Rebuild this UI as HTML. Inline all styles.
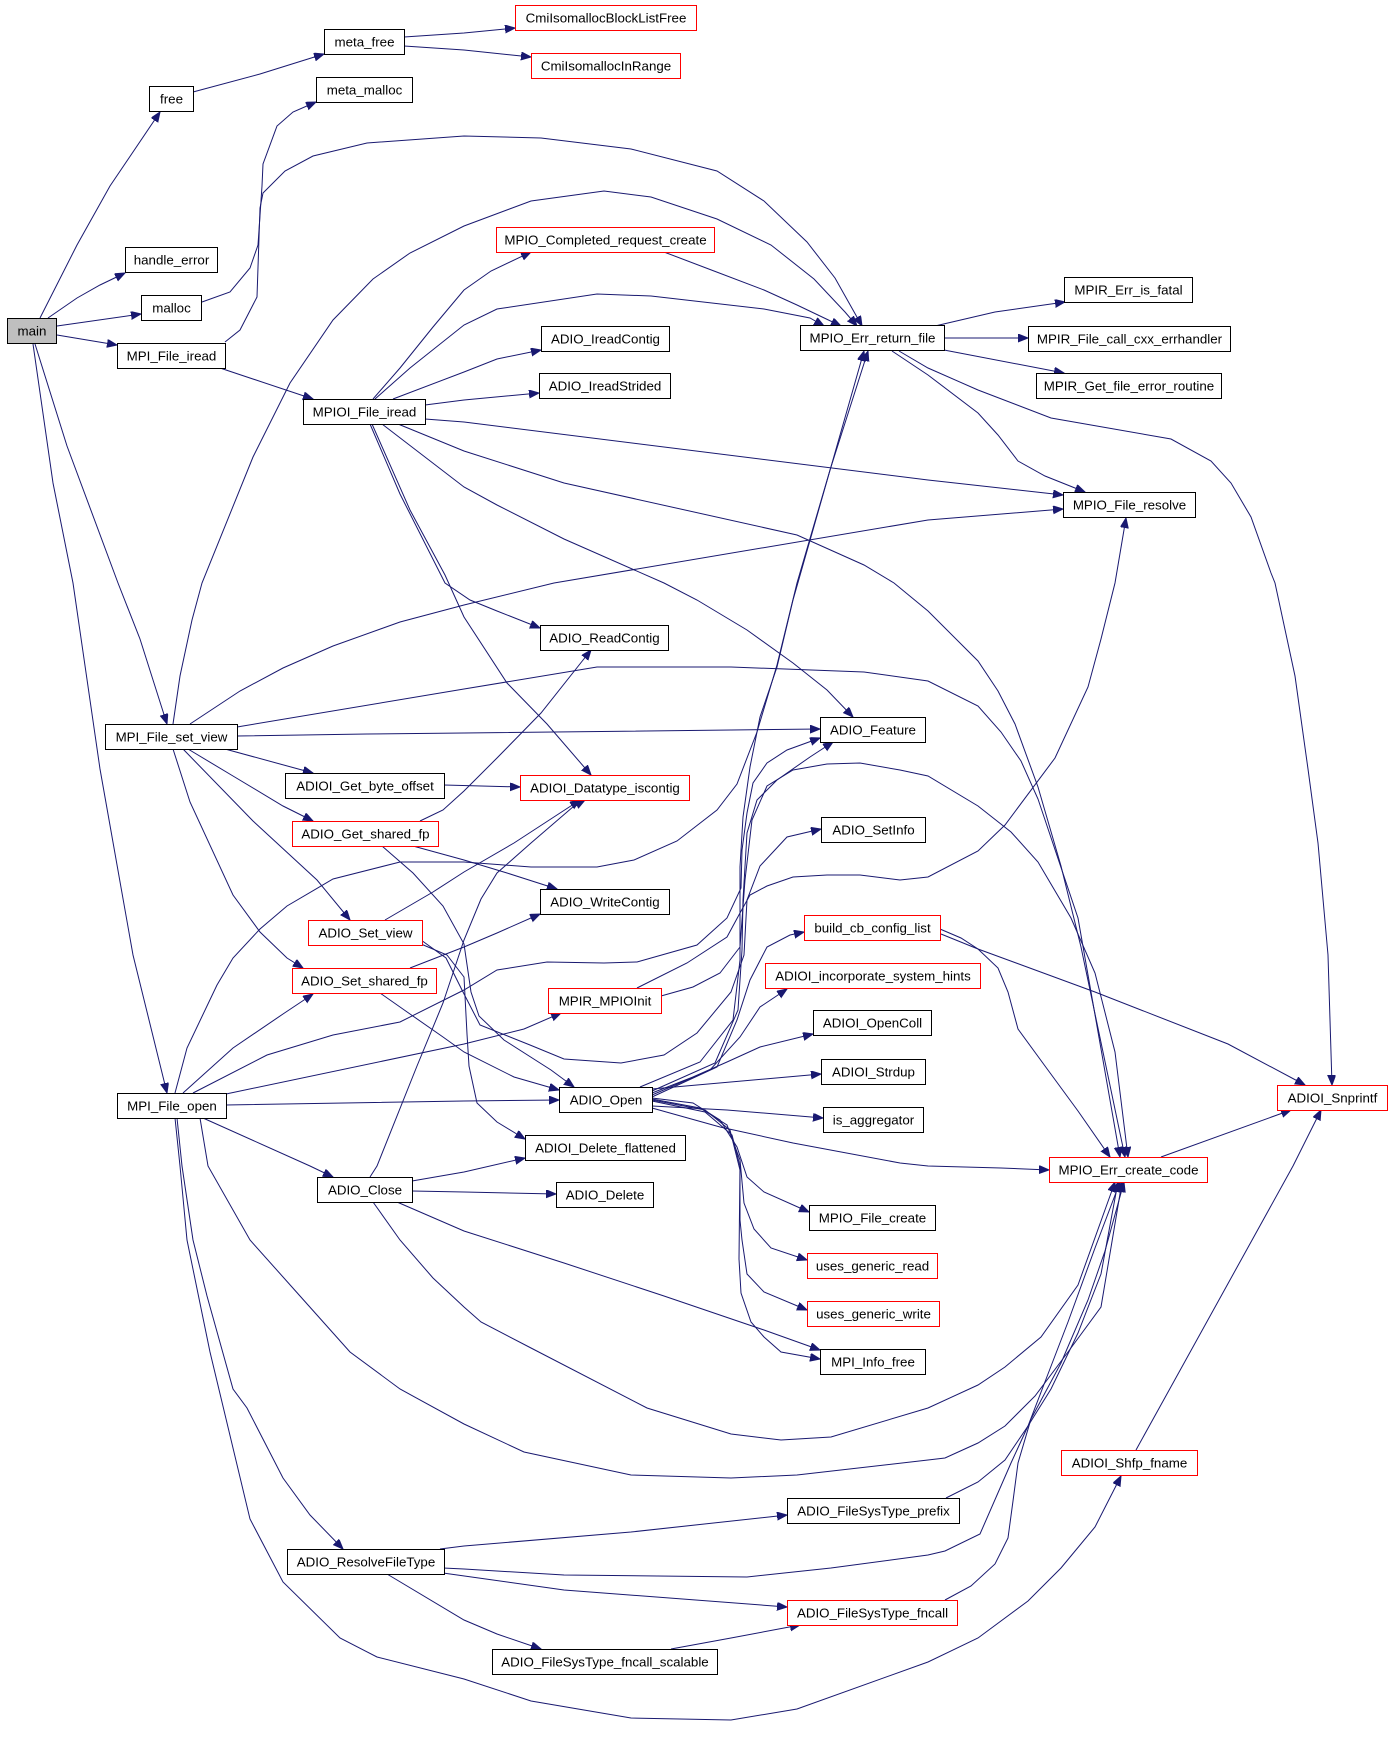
<!DOCTYPE html>
<html><head><meta charset="utf-8"><style>
html,body{margin:0;padding:0;background:#fff;}
svg{display:block;}
text{font-family:"Liberation Sans",Arial,sans-serif;font-size:13.33px;fill:#000;text-anchor:middle;}
.e{fill:none;stroke:#191970;stroke-width:1;marker-end:url(#a);}
.b{fill:#fff;stroke:#000;stroke-width:1;}
.r{fill:#fff;stroke:#ff0000;stroke-width:1;}
.g{fill:#bfbfbf;stroke:#000;stroke-width:1;}
</style></head><body>
<svg width="1392" height="1749" viewBox="0 0 1392 1749" xmlns="http://www.w3.org/2000/svg">
<defs><marker id="a" markerWidth="12" markerHeight="10" refX="10" refY="4" orient="auto" markerUnits="userSpaceOnUse"><path d="M0,0 L10,4 L0,8 z" fill="#191970" stroke="#191970"/></marker></defs>
<rect x="0" y="0" width="1392" height="1749" fill="#fff"/>
<g>
<polyline class="e" points="40,318 77,245 110,186 160,112"/>
<polyline class="e" points="48,318 77,298 100,285 125,273"/>
<polyline class="e" points="57,326 141,314"/>
<polyline class="e" points="57,335 117,345"/>
<polyline class="e" points="35,344 67,446 118,583 140,639 167,724"/>
<polyline class="e" points="33,344 53,483 73,583 100,769 133,955 167,1093"/>
<polyline class="e" points="193,92 260,74 324,54"/>
<polyline class="e" points="404,37 464,33 515,28"/>
<polyline class="e" points="404,46 464,50 531,57"/>
<polyline class="e" points="202,302 230,292 250,268 258,245 262,186 263,164 277,126 293,112 316,102"/>
<polyline class="e" points="225,342 240,330 257,297 260,208 263,193 285,171 313,156 367,143 464,136 541,138 631,149 717,171 764,201 807,242 835,278 862,326"/>
<polyline class="e" points="220,368 313,399"/>
<polyline class="e" points="373,399 400,368 433,327 464,290 491,271 531,252"/>
<polyline class="e" points="375,399 410,368 464,325 497,309 597,294 651,296 764,309 810,318 824,326"/>
<polyline class="e" points="393,399 464,372 497,359 541,350"/>
<polyline class="e" points="425,405 464,400 539,393"/>
<polyline class="e" points="425,419 464,422 928,480 1063,495"/>
<polyline class="e" points="398,424 464,451 564,483 797,535 864,565 894,583 928,611 978,661 998,691 1015,724 1038,787 1061,866 1081,947 1125,1157"/>
<polyline class="e" points="382,424 464,487 497,505 564,539 664,583 697,600 747,630 793,663 827,690 853,717"/>
<polyline class="e" points="370,424 400,494 445,583 470,600 497,611 540,628"/>
<polyline class="e" points="372,424 410,510 445,575 464,617 507,683 547,724 591,775"/>
<polyline class="e" points="173,724 180,676 192,620 202,583 253,457 290,383 333,320 373,279 410,253 464,226 531,201 604,191 651,197 717,219 771,245 814,279 845,312 857,326"/>
<polyline class="e" points="190,724 240,691 283,668 333,646 400,622 464,605 554,583 928,520 1063,509"/>
<polyline class="e" points="237,727 464,689 597,667 731,667 864,672 928,681 978,706 1001,732 1021,761 1038,799 1078,918 1120,1157"/>
<polyline class="e" points="237,736 367,734 464,733 820,729"/>
<polyline class="e" points="225,749 313,773"/>
<polyline class="e" points="188,749 233,776 283,806 313,821"/>
<polyline class="e" points="183,749 253,821 317,880 350,920"/>
<polyline class="e" points="173,749 190,802 233,895 260,932 287,958 303,968"/>
<polyline class="e" points="444,785 520,787"/>
<polyline class="e" points="420,821 443,810 464,791 497,758 541,713 591,650"/>
<polyline class="e" points="413,846 464,860 507,873 557,889"/>
<polyline class="e" points="382,846 413,873 443,906 464,944 471,992 479,1016 504,1040 551,1070 574,1087"/>
<polyline class="e" points="385,920 433,892 464,872 514,843 580,800"/>
<polyline class="e" points="421,944 447,955 464,977 467,1034 469,1066 477,1103 497,1122 525,1139"/>
<polyline class="e" points="421,940 446,958 462,990 480,1025 530,1045 564,1059 621,1063 664,1055 697,1033 731,992 744,955 747,900 760,866 787,837 821,829"/>
<polyline class="e" points="410,968 464,947 497,933 540,914"/>
<polyline class="e" points="380,993 410,1014 443,1037 464,1052 514,1077 559,1090"/>
<polyline class="e" points="175,1093 187,1048 217,985 233,958 260,929 287,906 333,879 400,862 464,862 531,867 597,867 634,860 677,841 717,810 737,784 757,732 777,665 797,583 830,470 868,351"/>
<polyline class="e" points="193,1093 267,1055 333,1035 400,1022 464,990 497,970 547,962 604,963 637,962 697,945 727,918 741,888 742,850 747,813 753,783 767,763 787,750 820,738"/>
<polyline class="e" points="183,1093 233,1048 283,1014 313,994"/>
<polyline class="e" points="226,1094 464,1044 524,1029 561,1013"/>
<polyline class="e" points="226,1105 464,1101 559,1100"/>
<polyline class="e" points="203,1118 310,1166 333,1177"/>
<polyline class="e" points="175,1118 180,1166 187,1240 210,1352 250,1519 283,1582 340,1638 377,1657 464,1679 531,1701 631,1718 731,1720 797,1709 928,1662 978,1638 1028,1601 1061,1568 1095,1527 1121,1476"/>
<polyline class="e" points="177,1118 182,1166 193,1240 207,1296 233,1389 247,1408 283,1478 310,1515 343,1549"/>
<polyline class="e" points="200,1118 208,1166 250,1240 300,1296 350,1352 400,1389 464,1424 524,1452 631,1475 731,1478 797,1475 928,1460 945,1458 978,1443 1005,1426 1035,1396 1068,1352 1101,1307 1122,1182"/>
<polyline class="e" points="373,1202 400,1240 433,1278 464,1307 481,1322 531,1348 647,1408 731,1434 781,1440 831,1437 928,1408 978,1385 1005,1367 1041,1337 1078,1285 1115,1182"/>
<polyline class="e" points="412,1181 464,1172 525,1158"/>
<polyline class="e" points="412,1191 464,1192 556,1194"/>
<polyline class="e" points="397,1202 464,1231 564,1263 664,1296 764,1330 820,1350"/>
<polyline class="e" points="370,1177 377,1166 417,1066 443,1003 464,940 481,899 497,873 531,843 574,806 585,800"/>
<polyline class="e" points="440,1549 464,1546 631,1532 787,1515"/>
<polyline class="e" points="443,1568 464,1569 564,1575 747,1577 831,1568 928,1555 945,1551 980,1534 1011,1463 1028,1426 1048,1374 1068,1322 1095,1248 1120,1182"/>
<polyline class="e" points="443,1573 564,1590 787,1607"/>
<polyline class="e" points="387,1574 464,1620 497,1634 541,1649"/>
<polyline class="e" points="671,1649 731,1638 800,1625"/>
<polyline class="e" points="946,1498 978,1482 1005,1460 1028,1426 1051,1389 1078,1333 1101,1274 1118,1182"/>
<polyline class="e" points="945,1600 971,1586 995,1564 1008,1538 1013,1501 1018,1463 1031,1419 1061,1363 1088,1300 1105,1251 1124,1182"/>
<polyline class="e" points="1161,1157 1291,1110"/>
<polyline class="e" points="1136,1450 1293,1166 1321,1110"/>
<polyline class="e" points="941,934 978,949 1095,992 1228,1044 1305,1085"/>
<polyline class="e" points="940,929 961,938 978,949 998,968 1008,992 1018,1029 1045,1066 1078,1111 1110,1157"/>
<polyline class="e" points="899,351 928,368 978,390 1051,418 1171,439 1211,461 1231,483 1251,517 1271,573 1275,583 1295,676 1308,769 1318,843 1328,955 1332,1085"/>
<polyline class="e" points="892,351 928,375 978,413 998,435 1018,461 1045,476 1085,492"/>
<polyline class="e" points="935,326 995,312 1065,302"/>
<polyline class="e" points="944,338 1028,338"/>
<polyline class="e" points="944,350 1064,373"/>
<polyline class="e" points="664,252 714,271 764,290 797,305 841,326"/>
<polyline class="e" points="652,1089 821,1074"/>
<polyline class="e" points="652,1106 727,1110 823,1118"/>
<polyline class="e" points="652,1093 693,1077 727,1062 760,1047 813,1034"/>
<polyline class="e" points="652,1095 710,1070 740,1037 760,1007 787,989"/>
<polyline class="e" points="652,1097 717,1067 737,1020 750,980 767,947 790,935 804,932"/>
<polyline class="e" points="640,1087 700,1062 733,1020 740,960 740,900 740,867 743,817 750,767 760,717 777,667 793,600 864,351"/>
<polyline class="e" points="652,1091 715,1063 738,1010 742,950 743,900 747,833 757,800 777,780 810,757 833,742"/>
<polyline class="e" points="652,1098 693,1103 720,1120 737,1147 747,1177 764,1192 809,1212"/>
<polyline class="e" points="652,1099 700,1108 727,1125 740,1160 744,1203 754,1229 771,1248 807,1260"/>
<polyline class="e" points="652,1100 705,1110 730,1130 740,1170 740,1220 742,1240 747,1274 764,1292 807,1310"/>
<polyline class="e" points="652,1101 705,1112 732,1135 740,1166 739,1259 741,1293 751,1322 764,1337 781,1352 820,1359"/>
<polyline class="e" points="652,1108 720,1127 793,1143 900,1163 928,1166 1001,1168 1049,1170"/>
<polyline class="e" points="661,996 693,987 720,973 740,947 745,880 752,820 767,786 793,770 827,764 860,763 900,770 928,776 978,806 1011,832 1038,862 1071,918 1095,973 1115,1052 1128,1157"/>
<polyline class="e" points="637,988 687,963 727,937 740,913 750,895 767,886 793,877 827,875 860,875 900,880 928,877 978,851 1005,825 1055,758 1088,687 1101,639 1115,583 1126,518"/>
</g>
<g>
<rect class="g" x="7.5" y="318.5" width="49" height="25"/><text x="32" y="335.5">main</text>
<rect class="b" x="149.5" y="86.5" width="44" height="25"/><text x="171.5" y="103.5">free</text>
<rect class="b" x="324.5" y="29.5" width="80" height="25"/><text x="364.5" y="46.5">meta_free</text>
<rect class="b" x="316.5" y="77.5" width="96" height="25"/><text x="364.5" y="94.5">meta_malloc</text>
<rect class="b" x="125.5" y="247.5" width="92" height="25"/><text x="171.5" y="264.5">handle_error</text>
<rect class="b" x="141.5" y="295.5" width="60" height="25"/><text x="171.5" y="312.5">malloc</text>
<rect class="b" x="117.5" y="343.5" width="108" height="25"/><text x="171.5" y="360.5">MPI_File_iread</text>
<rect class="b" x="303.5" y="399.5" width="122" height="25"/><text x="364.5" y="416.5">MPIOI_File_iread</text>
<rect class="r" x="515.5" y="5.5" width="181" height="25"/><text x="606" y="22.5">CmiIsomallocBlockListFree</text>
<rect class="r" x="531.5" y="53.5" width="149" height="25"/><text x="606" y="70.5">CmiIsomallocInRange</text>
<rect class="r" x="496.5" y="227.5" width="218" height="25"/><text x="605.5" y="244.5">MPIO_Completed_request_create</text>
<rect class="b" x="541.5" y="326.5" width="128" height="25"/><text x="605.5" y="343.5">ADIO_IreadContig</text>
<rect class="b" x="539.5" y="373.5" width="131" height="25"/><text x="605" y="390.5">ADIO_IreadStrided</text>
<rect class="b" x="800.5" y="325.5" width="144" height="25"/><text x="872.5" y="342.5">MPIO_Err_return_file</text>
<rect class="b" x="1064.5" y="277.5" width="128" height="25"/><text x="1128.5" y="294.5">MPIR_Err_is_fatal</text>
<rect class="b" x="1028.5" y="326.5" width="202" height="25"/><text x="1129.5" y="343.5">MPIR_File_call_cxx_errhandler</text>
<rect class="b" x="1036.5" y="373.5" width="185" height="25"/><text x="1129" y="390.5">MPIR_Get_file_error_routine</text>
<rect class="b" x="1063.5" y="492.5" width="132" height="25"/><text x="1129.5" y="509.5">MPIO_File_resolve</text>
<rect class="b" x="105.5" y="724.5" width="132" height="25"/><text x="171.5" y="741.5">MPI_File_set_view</text>
<rect class="b" x="285.5" y="773.5" width="159" height="25"/><text x="365" y="790.5">ADIOI_Get_byte_offset</text>
<rect class="r" x="292.5" y="821.5" width="146" height="25"/><text x="365.5" y="838.5">ADIO_Get_shared_fp</text>
<rect class="r" x="308.5" y="920.5" width="114" height="25"/><text x="365.5" y="937.5">ADIO_Set_view</text>
<rect class="r" x="292.5" y="968.5" width="144" height="25"/><text x="364.5" y="985.5">ADIO_Set_shared_fp</text>
<rect class="b" x="117.5" y="1093.5" width="109" height="25"/><text x="172" y="1110.5">MPI_File_open</text>
<rect class="b" x="540.5" y="625.5" width="128" height="25"/><text x="604.5" y="642.5">ADIO_ReadContig</text>
<rect class="b" x="820.5" y="717.5" width="105" height="25"/><text x="873" y="734.5">ADIO_Feature</text>
<rect class="r" x="520.5" y="775.5" width="169" height="25"/><text x="605" y="792.5">ADIOI_Datatype_iscontig</text>
<rect class="b" x="821.5" y="817.5" width="104" height="25"/><text x="873.5" y="834.5">ADIO_SetInfo</text>
<rect class="b" x="540.5" y="889.5" width="129" height="25"/><text x="605" y="906.5">ADIO_WriteContig</text>
<rect class="r" x="804.5" y="915.5" width="136" height="25"/><text x="872.5" y="932.5">build_cb_config_list</text>
<rect class="r" x="765.5" y="963.5" width="215" height="25"/><text x="873" y="980.5">ADIOI_incorporate_system_hints</text>
<rect class="r" x="548.5" y="988.5" width="113" height="25"/><text x="605" y="1005.5">MPIR_MPIOInit</text>
<rect class="b" x="813.5" y="1010.5" width="118" height="25"/><text x="872.5" y="1027.5">ADIOI_OpenColl</text>
<rect class="b" x="821.5" y="1059.5" width="104" height="25"/><text x="873.5" y="1076.5">ADIOI_Strdup</text>
<rect class="b" x="559.5" y="1087.5" width="93" height="25"/><text x="606" y="1104.5">ADIO_Open</text>
<rect class="b" x="823.5" y="1107.5" width="100" height="25"/><text x="873.5" y="1124.5">is_aggregator</text>
<rect class="b" x="525.5" y="1135.5" width="160" height="25"/><text x="605.5" y="1152.5">ADIOI_Delete_flattened</text>
<rect class="r" x="1277.5" y="1085.5" width="110" height="25"/><text x="1332.5" y="1102.5">ADIOI_Snprintf</text>
<rect class="r" x="1049.5" y="1157.5" width="158" height="25"/><text x="1128.5" y="1174.5">MPIO_Err_create_code</text>
<rect class="b" x="317.5" y="1177.5" width="95" height="25"/><text x="365" y="1194.5">ADIO_Close</text>
<rect class="b" x="287.5" y="1549.5" width="157" height="25"/><text x="366" y="1566.5">ADIO_ResolveFileType</text>
<rect class="b" x="556.5" y="1182.5" width="97" height="25"/><text x="605" y="1199.5">ADIO_Delete</text>
<rect class="b" x="809.5" y="1205.5" width="126" height="25"/><text x="872.5" y="1222.5">MPIO_File_create</text>
<rect class="r" x="807.5" y="1253.5" width="130" height="25"/><text x="872.5" y="1270.5">uses_generic_read</text>
<rect class="r" x="807.5" y="1301.5" width="132" height="25"/><text x="873.5" y="1318.5">uses_generic_write</text>
<rect class="b" x="820.5" y="1349.5" width="105" height="25"/><text x="873" y="1366.5">MPI_Info_free</text>
<rect class="b" x="787.5" y="1498.5" width="172" height="25"/><text x="873.5" y="1515.5">ADIO_FileSysType_prefix</text>
<rect class="r" x="787.5" y="1600.5" width="170" height="25"/><text x="872.5" y="1617.5">ADIO_FileSysType_fncall</text>
<rect class="b" x="492.5" y="1649.5" width="225" height="25"/><text x="605" y="1666.5">ADIO_FileSysType_fncall_scalable</text>
<rect class="r" x="1061.5" y="1450.5" width="136" height="25"/><text x="1129.5" y="1467.5">ADIOI_Shfp_fname</text>
</g>
</svg>
</body></html>
